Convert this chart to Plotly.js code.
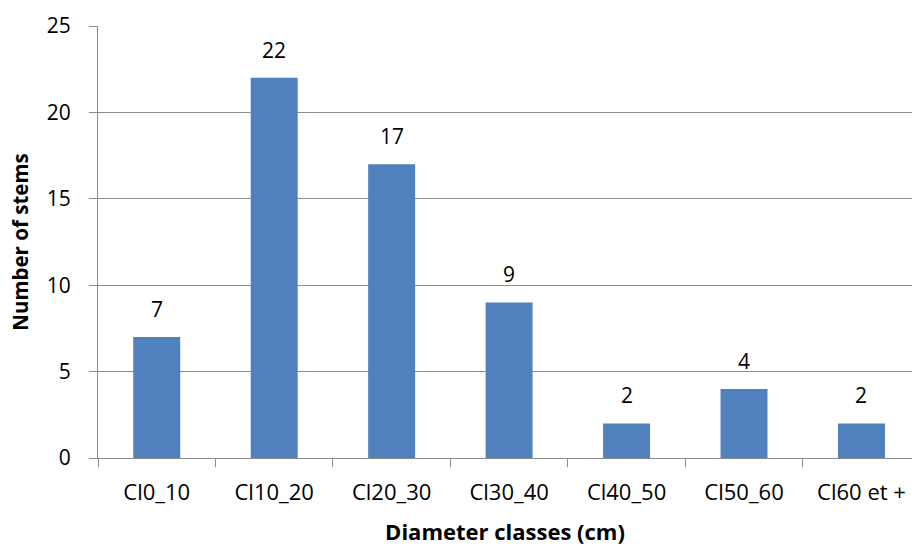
<!DOCTYPE html>
<html>
<head>
<meta charset="utf-8">
<script src="https://cdn.plot.ly/plotly-3.0.1.min.js"></script>
<style>html,body{margin:0;padding:0;background:#fff;overflow:hidden}#chart{width:912px;height:546px}</style>
</head>
<body>
<div id="chart"></div>
<script>
const categories = ["Cl0_10", "Cl10_20", "Cl20_30", "Cl30_40", "Cl40_50", "Cl50_60", "Cl60 et +"];
const stems = [7, 22, 17, 9, 2, 4, 2];
const yTicks = [0, 5, 10, 15, 20, 25];

const FONT = "'Open Sans', Lato, sans-serif";
const GRID = "#8c8c8c";

const trace = {
  type: "bar",
  x: categories,
  y: stems,
  marker: {color: "#4F81BD"},
  hoverinfo: "x+y"
};

const annotations = categories.map((c, i) => ({
  x: c, y: stems[i], xref: "x", yref: "y",
  text: String(stems[i]), showarrow: false,
  yanchor: "bottom", yshift: 12,
  font: {family: FONT, size: 21, color: "#000"}
}));

const layout = {
  width: 912, height: 546,
  margin: {l: 97.5, r: 0, t: 26, b: 88},
  paper_bgcolor: "#fff", plot_bgcolor: "#fff",
  bargap: 0.6,
  showlegend: false,
  font: {family: FONT, size: 21, color: "#000"},
  xaxis: {
    type: "category",
    range: [-0.5, 6.43],
    showgrid: false,
    showline: true, linecolor: GRID, linewidth: 1,
    ticks: "outside", ticklen: 8, tickcolor: GRID, tickwidth: 1,
    tickson: "boundaries",
    ticklabelstandoff: 15,
    tickfont: {family: FONT, size: 22, color: "#000"},
    title: {text: "<b>Diameter classes (cm)</b>", font: {family: FONT, size: 22, color: "#000"}, standoff: 19},
    automargin: false,
    fixedrange: true
  },
  yaxis: {
    range: [0, 25],
    tickvals: yTicks,
    showgrid: true, gridcolor: GRID, gridwidth: 1,
    showline: true, linecolor: GRID, linewidth: 1,
    ticks: "outside", ticklen: 8, tickcolor: GRID, tickwidth: 1,
    ticklabelstandoff: 14,
    zeroline: false,
    tickfont: {family: FONT, size: 21, color: "#000"},
    title: {text: "<b>Number of stems</b>", font: {family: FONT, size: 20.5, color: "#000"}, standoff: 12},
    automargin: false,
    fixedrange: true
  },
  annotations: annotations
};

Plotly.newPlot("chart", [trace], layout, {displayModeBar: false, staticPlot: true});
</script>
</body>
</html>
